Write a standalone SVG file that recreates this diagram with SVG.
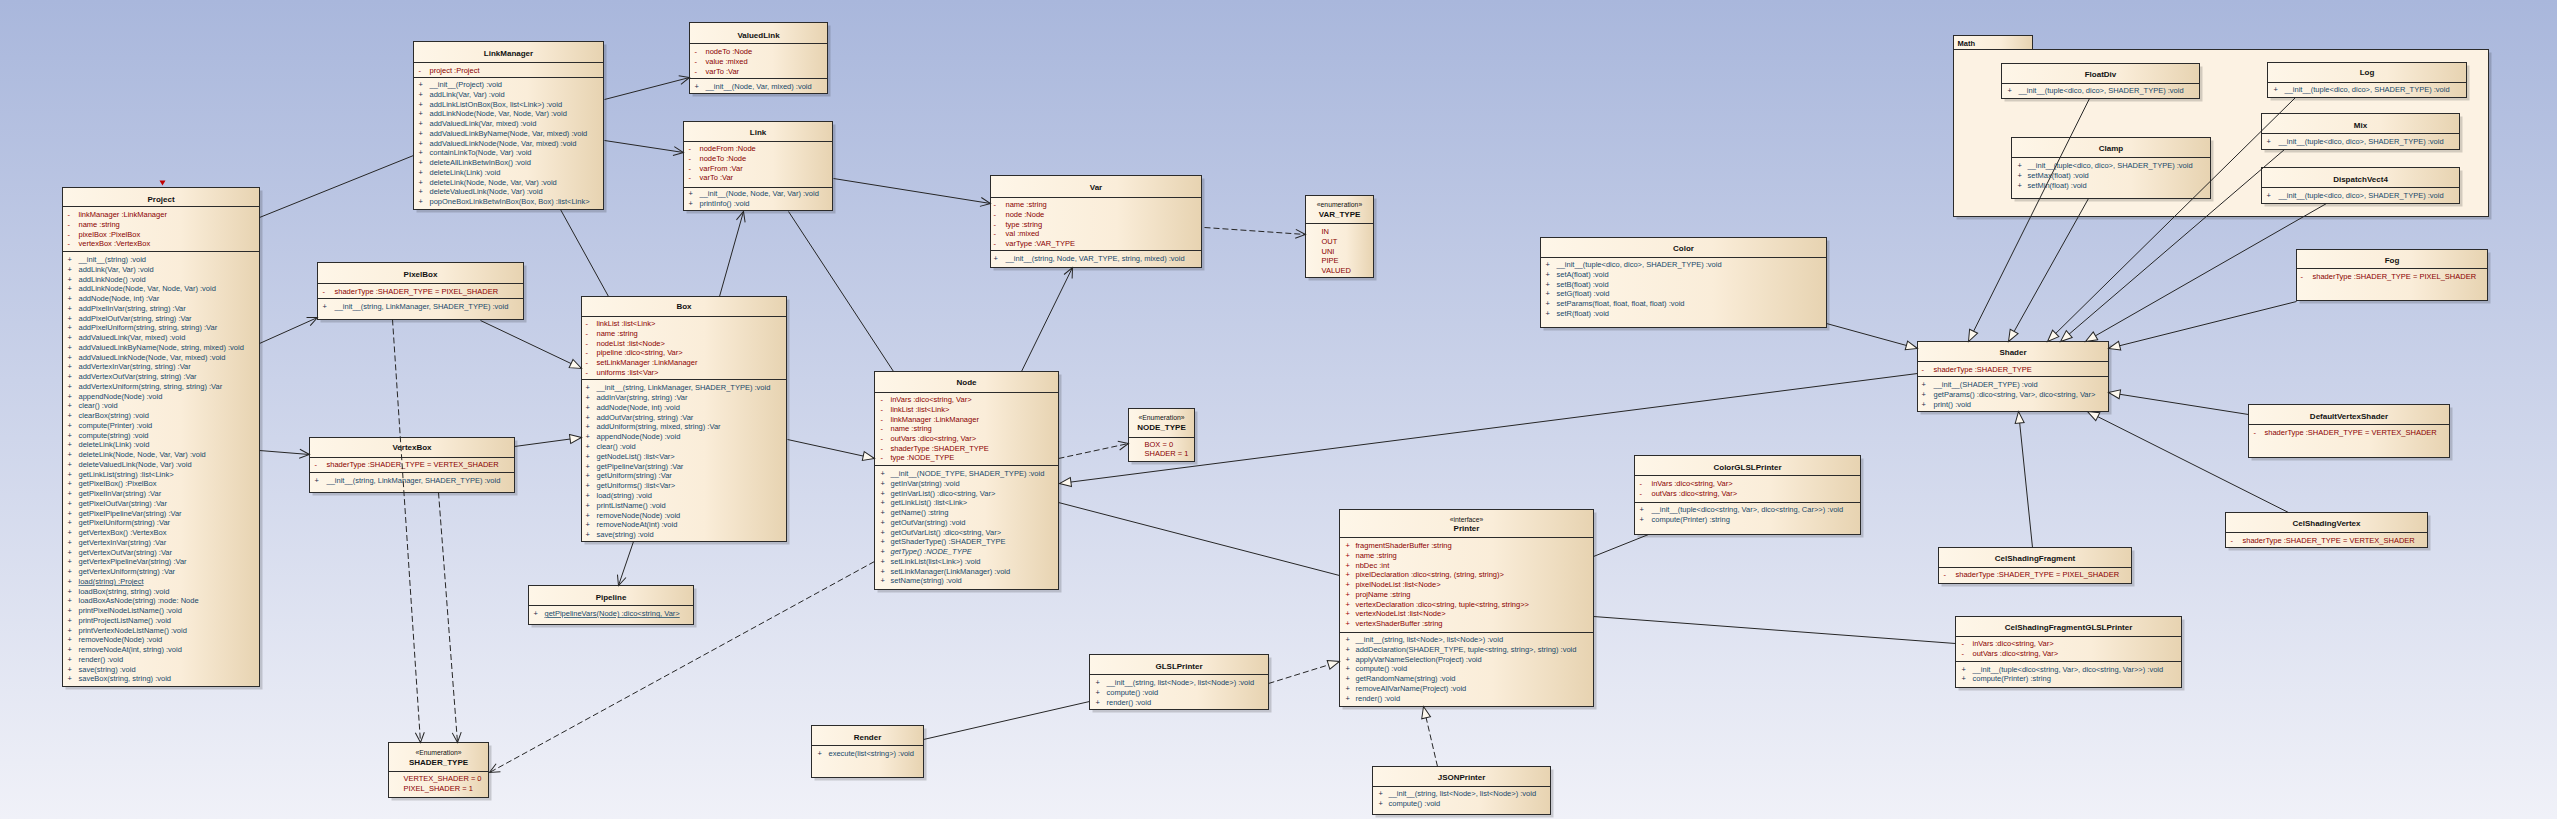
<svg xmlns="http://www.w3.org/2000/svg" width="2557" height="819" viewBox="0 0 2557 819">
<defs>
<linearGradient id="bg" x1="0" y1="0" x2="0" y2="1"><stop offset="0" stop-color="#a9b7dc"/><stop offset="1" stop-color="#f0f1f8"/></linearGradient>
<linearGradient id="g" x1="0" y1="0" x2="1" y2="0"><stop offset="0" stop-color="#fef6e8"/><stop offset="0.6" stop-color="#faedd9"/><stop offset="1" stop-color="#e7d3b1"/></linearGradient>
<marker id="oa" viewBox="0 0 10 10" refX="10" refY="5" markerWidth="10" markerHeight="10" markerUnits="userSpaceOnUse" orient="auto" overflow="visible"><path d="M0,0.5 L10,5 L0,9.5" fill="none" stroke="#262626" stroke-width="1"/></marker>
<marker id="tr" viewBox="0 0 12 10" refX="12" refY="5" markerWidth="12" markerHeight="10" markerUnits="userSpaceOnUse" orient="auto" overflow="visible"><path d="M0.5,0.5 L12,5 L0.5,9.5 Z" fill="#fdf8ee" stroke="#262626" stroke-width="1"/></marker>
</defs>
<style>
.bx{fill:url(#g);stroke:#2b2b2b;stroke-width:1}
.sh{fill:#000;opacity:.16}
.sp{stroke:#2b2b2b;stroke-width:1;fill:none}
text{font-family:"Liberation Sans",Arial,sans-serif;font-size:7.5px}
.nm{font-weight:bold;font-size:8px;text-anchor:middle;fill:#111}
.st{font-size:6.8px;text-anchor:middle;fill:#111}
.at{fill:#8a0000}
.mt{fill:#17486a}
.vr{fill:#a00000}
.vp{fill:#1a2a48}
.c{fill:none;stroke:#262626;stroke-width:1}
.d{stroke-dasharray:6,3}
.oa{marker-end:url(#oa)}
.tr{marker-end:url(#tr)}
</style>
<rect x="0" y="0" width="2557" height="819" fill="url(#bg)"/>
<g transform="translate(0.5,0.5)">

<g id="math">
<rect class="sh" x="1956" y="52" width="535" height="167"/>
<rect class="bx" x="1953" y="35" width="79" height="14"/>
<rect x="1953" y="49" width="535" height="167" fill="#fcf2e3" stroke="#2b2b2b"/>
<text x="1957" y="45" style="font-weight:bold" fill="#111">Math</text>
</g>

<g id="project">
<path d="M159,180 L165,180 L162,185 Z" fill="#c00000"/>
<rect class="sh" x="65" y="190" width="197" height="499"/>
<rect class="bx" x="62" y="187" width="197" height="499"/>
<path class="sp" d="M62,206H259M62,251H259"/>
<text class="nm" x="160.5" y="201">Project</text>
<text class="vr"><tspan x="67" y="216.7">-</tspan><tspan x="67" dy="9.75">-</tspan><tspan x="67" dy="9.75">-</tspan><tspan x="67" dy="9.75">-</tspan></text>
<text class="at"><tspan x="78" y="216.7">linkManager :LinkManager</tspan><tspan x="78" dy="9.75">name :string</tspan><tspan x="78" dy="9.75">pixelBox :PixelBox</tspan><tspan x="78" dy="9.75">vertexBox :VertexBox</tspan></text>
<text class="vp"><tspan x="67" y="261.7">+</tspan><tspan x="67" dy="9.75">+</tspan><tspan x="67" dy="9.75">+</tspan><tspan x="67" dy="9.75">+</tspan><tspan x="67" dy="9.75">+</tspan><tspan x="67" dy="9.75">+</tspan><tspan x="67" dy="9.75">+</tspan><tspan x="67" dy="9.75">+</tspan><tspan x="67" dy="9.75">+</tspan><tspan x="67" dy="9.75">+</tspan><tspan x="67" dy="9.75">+</tspan><tspan x="67" dy="9.75">+</tspan><tspan x="67" dy="9.75">+</tspan><tspan x="67" dy="9.75">+</tspan><tspan x="67" dy="9.75">+</tspan><tspan x="67" dy="9.75">+</tspan><tspan x="67" dy="9.75">+</tspan><tspan x="67" dy="9.75">+</tspan><tspan x="67" dy="9.75">+</tspan><tspan x="67" dy="9.75">+</tspan><tspan x="67" dy="9.75">+</tspan><tspan x="67" dy="9.75">+</tspan><tspan x="67" dy="9.75">+</tspan><tspan x="67" dy="9.75">+</tspan><tspan x="67" dy="9.75">+</tspan><tspan x="67" dy="9.75">+</tspan><tspan x="67" dy="9.75">+</tspan><tspan x="67" dy="9.75">+</tspan><tspan x="67" dy="9.75">+</tspan><tspan x="67" dy="9.75">+</tspan><tspan x="67" dy="9.75">+</tspan><tspan x="67" dy="9.75">+</tspan><tspan x="67" dy="9.75">+</tspan><tspan x="67" dy="9.75">+</tspan><tspan x="67" dy="9.75">+</tspan><tspan x="67" dy="9.75">+</tspan><tspan x="67" dy="9.75">+</tspan><tspan x="67" dy="9.75">+</tspan><tspan x="67" dy="9.75">+</tspan><tspan x="67" dy="9.75">+</tspan><tspan x="67" dy="9.75">+</tspan><tspan x="67" dy="9.75">+</tspan><tspan x="67" dy="9.75">+</tspan><tspan x="67" dy="9.75">+</tspan></text>
<text class="mt"><tspan x="78" y="261.7">__init__(string) :void</tspan><tspan x="78" dy="9.75">addLink(Var, Var) :void</tspan><tspan x="78" dy="9.75">addLinkNode() :void</tspan><tspan x="78" dy="9.75">addLinkNode(Node, Var, Node, Var) :void</tspan><tspan x="78" dy="9.75">addNode(Node, int) :Var</tspan><tspan x="78" dy="9.75">addPixelInVar(string, string) :Var</tspan><tspan x="78" dy="9.75">addPixelOutVar(string, string) :Var</tspan><tspan x="78" dy="9.75">addPixelUniform(string, string, string) :Var</tspan><tspan x="78" dy="9.75">addValuedLink(Var, mixed) :void</tspan><tspan x="78" dy="9.75">addValuedLinkByName(Node, string, mixed) :void</tspan><tspan x="78" dy="9.75">addValuedLinkNode(Node, Var, mixed) :void</tspan><tspan x="78" dy="9.75">addVertexInVar(string, string) :Var</tspan><tspan x="78" dy="9.75">addVertexOutVar(string, string) :Var</tspan><tspan x="78" dy="9.75">addVertexUniform(string, string, string) :Var</tspan><tspan x="78" dy="9.75">appendNode(Node) :void</tspan><tspan x="78" dy="9.75">clear() :void</tspan><tspan x="78" dy="9.75">clearBox(string) :void</tspan><tspan x="78" dy="9.75">compute(Printer) :void</tspan><tspan x="78" dy="9.75">compute(string) :void</tspan><tspan x="78" dy="9.75">deleteLink(Link) :void</tspan><tspan x="78" dy="9.75">deleteLink(Node, Node, Var, Var) :void</tspan><tspan x="78" dy="9.75">deleteValuedLink(Node, Var) :void</tspan><tspan x="78" dy="9.75">getLinkList(string) :list&lt;Link&gt;</tspan><tspan x="78" dy="9.75">getPixelBox() :PixelBox</tspan><tspan x="78" dy="9.75">getPixelInVar(string) :Var</tspan><tspan x="78" dy="9.75">getPixelOutVar(string) :Var</tspan><tspan x="78" dy="9.75">getPixelPipelineVar(string) :Var</tspan><tspan x="78" dy="9.75">getPixelUniform(string) :Var</tspan><tspan x="78" dy="9.75">getVertexBox() :VertexBox</tspan><tspan x="78" dy="9.75">getVertexInVar(string) :Var</tspan><tspan x="78" dy="9.75">getVertexOutVar(string) :Var</tspan><tspan x="78" dy="9.75">getVertexPipelineVar(string) :Var</tspan><tspan x="78" dy="9.75">getVertexUniform(string) :Var</tspan><tspan x="78" dy="9.75" text-decoration="underline">load(string) :Project</tspan><tspan x="78" dy="9.75">loadBox(string, string) :void</tspan><tspan x="78" dy="9.75">loadBoxAsNode(string) :node: Node</tspan><tspan x="78" dy="9.75">printPixelNodeListName() :void</tspan><tspan x="78" dy="9.75">printProjectListName() :void</tspan><tspan x="78" dy="9.75">printVertexNodeListName() :void</tspan><tspan x="78" dy="9.75">removeNode(Node) :void</tspan><tspan x="78" dy="9.75">removeNodeAt(int, string) :void</tspan><tspan x="78" dy="9.75">render() :void</tspan><tspan x="78" dy="9.75">save(string) :void</tspan><tspan x="78" dy="9.75">saveBox(string, string) :void</tspan></text>
</g>

<g id="linkmanager">
<rect class="sh" x="416" y="44" width="190" height="168"/>
<rect class="bx" x="413" y="41" width="190" height="168"/>
<path class="sp" d="M413,62H603M413,77H603"/>
<text class="nm" x="508" y="55.5">LinkManager</text>
<text class="vr" x="418" y="72">-</text>
<text class="at" x="429" y="72">project :Project</text>
<text class="vp"><tspan x="418" y="86.7">+</tspan><tspan x="418" dy="9.75">+</tspan><tspan x="418" dy="9.75">+</tspan><tspan x="418" dy="9.75">+</tspan><tspan x="418" dy="9.75">+</tspan><tspan x="418" dy="9.75">+</tspan><tspan x="418" dy="9.75">+</tspan><tspan x="418" dy="9.75">+</tspan><tspan x="418" dy="9.75">+</tspan><tspan x="418" dy="9.75">+</tspan><tspan x="418" dy="9.75">+</tspan><tspan x="418" dy="9.75">+</tspan><tspan x="418" dy="9.75">+</tspan></text>
<text class="mt"><tspan x="429" y="86.7">__init__(Project) :void</tspan><tspan x="429" dy="9.75">addLink(Var, Var) :void</tspan><tspan x="429" dy="9.75">addLinkListOnBox(Box, list&lt;Link&gt;) :void</tspan><tspan x="429" dy="9.75">addLinkNode(Node, Var, Node, Var) :void</tspan><tspan x="429" dy="9.75">addValuedLink(Var, mixed) :void</tspan><tspan x="429" dy="9.75">addValuedLinkByName(Node, Var, mixed) :void</tspan><tspan x="429" dy="9.75">addValuedLinkNode(Node, Var, mixed) :void</tspan><tspan x="429" dy="9.75">containLinkTo(Node, Var) :void</tspan><tspan x="429" dy="9.75">deleteAllLinkBetwInBox() :void</tspan><tspan x="429" dy="9.75">deleteLink(Link) :void</tspan><tspan x="429" dy="9.75">deleteLink(Node, Node, Var, Var) :void</tspan><tspan x="429" dy="9.75">deleteValuedLink(Node, Var) :void</tspan><tspan x="429" dy="9.75">popOneBoxLinkBetwInBox(Box, Box) :list&lt;Link&gt;</tspan></text>
</g>

<g id="valuedlink">
<rect class="sh" x="692" y="25" width="138" height="71"/>
<rect class="bx" x="689" y="22" width="138" height="71"/>
<path class="sp" d="M689,43H827M689,78H827"/>
<text class="nm" x="758" y="37">ValuedLink</text>
<text class="vr"><tspan x="694" y="53.7">-</tspan><tspan x="694" dy="9.75">-</tspan><tspan x="694" dy="9.75">-</tspan></text>
<text class="at"><tspan x="705" y="53.7">nodeTo :Node</tspan><tspan x="705" dy="9.75">value :mixed</tspan><tspan x="705" dy="9.75">varTo :Var</tspan></text>
<text class="vp" x="694" y="88.7">+</text>
<text class="mt" x="705" y="88.7">__init__(Node, Var, mixed) :void</text>
</g>

<g id="link">
<rect class="sh" x="686" y="124" width="149" height="89"/>
<rect class="bx" x="683" y="121" width="149" height="89"/>
<path class="sp" d="M683,141H832M683,187H832"/>
<text class="nm" x="757.5" y="134.5">Link</text>
<text class="vr"><tspan x="688" y="150.7">-</tspan><tspan x="688" dy="9.75">-</tspan><tspan x="688" dy="9.75">-</tspan><tspan x="688" dy="9.75">-</tspan></text>
<text class="at"><tspan x="699" y="150.7">nodeFrom :Node</tspan><tspan x="699" dy="9.75">nodeTo :Node</tspan><tspan x="699" dy="9.75">varFrom :Var</tspan><tspan x="699" dy="9.75">varTo :Var</tspan></text>
<text class="vp"><tspan x="688" y="195.9">+</tspan><tspan x="688" dy="9.75">+</tspan></text>
<text class="mt"><tspan x="699" y="195.9">__init__(Node, Node, Var, Var) :void</tspan><tspan x="699" dy="9.75">printInfo() :void</tspan></text>
</g>

<g id="var">
<rect class="sh" x="993" y="178" width="211" height="92"/>
<rect class="bx" x="990" y="175" width="211" height="92"/>
<path class="sp" d="M990,197H1201M990,250H1201"/>
<text class="nm" x="1095.5" y="189.5">Var</text>
<text class="vr"><tspan x="993" y="206.7">-</tspan><tspan x="993" dy="9.75">-</tspan><tspan x="993" dy="9.75">-</tspan><tspan x="993" dy="9.75">-</tspan><tspan x="993" dy="9.75">-</tspan></text>
<text class="at"><tspan x="1005" y="206.7">name :string</tspan><tspan x="1005" dy="9.75">node :Node</tspan><tspan x="1005" dy="9.75">type :string</tspan><tspan x="1005" dy="9.75">val :mixed</tspan><tspan x="1005" dy="9.75">varType :VAR_TYPE</tspan></text>
<text class="vp" x="993" y="260.7">+</text>
<text class="mt" x="1005" y="260.7">__init__(string, Node, VAR_TYPE, string, mixed) :void</text>
</g>

<g id="var_type">
<rect class="sh" x="1308" y="198" width="68" height="82"/>
<rect class="bx" x="1305" y="195" width="68" height="82"/>
<path class="sp" d="M1305,223H1373"/>
<text class="st" x="1339" y="206.5">«enumeration»</text>
<text class="nm" x="1339" y="216.7">VAR_TYPE</text>
<text class="at"><tspan x="1321" y="233.7">IN</tspan><tspan x="1321" dy="9.75">OUT</tspan><tspan x="1321" dy="9.75">UNI</tspan><tspan x="1321" dy="9.75">PIPE</tspan><tspan x="1321" dy="9.75">VALUED</tspan></text>
</g>

<g id="pixelbox">
<rect class="sh" x="320" y="265" width="206" height="57"/>
<rect class="bx" x="317" y="262" width="206" height="57"/>
<path class="sp" d="M317,283H523M317,298H523"/>
<text class="nm" x="420" y="276.7">PixelBox</text>
<text class="vr" x="322" y="293.7">-</text>
<text class="at" x="334" y="293.7">shaderType :SHADER_TYPE = PIXEL_SHADER</text>
<text class="vp" x="322" y="308.7">+</text>
<text class="mt" x="334" y="308.7">__init__(string, LinkManager, SHADER_TYPE) :void</text>
</g>

<g id="vertexbox">
<rect class="sh" x="312" y="440" width="205" height="55"/>
<rect class="bx" x="309" y="437" width="205" height="55"/>
<path class="sp" d="M309,457H514M309,472H514"/>
<text class="nm" x="411.5" y="449.7">VertexBox</text>
<text class="vr" x="314" y="466.7">-</text>
<text class="at" x="326" y="466.7">shaderType :SHADER_TYPE = VERTEX_SHADER</text>
<text class="vp" x="314" y="482.7">+</text>
<text class="mt" x="326" y="482.7">__init__(string, LinkManager, SHADER_TYPE) :void</text>
</g>

<g id="box">
<rect class="sh" x="584" y="299" width="205" height="245"/>
<rect class="bx" x="581" y="296" width="205" height="245"/>
<path class="sp" d="M581,316H786M581,379H786"/>
<text class="nm" x="683.5" y="308.7">Box</text>
<text class="vr"><tspan x="585" y="325.7">-</tspan><tspan x="585" dy="9.75">-</tspan><tspan x="585" dy="9.75">-</tspan><tspan x="585" dy="9.75">-</tspan><tspan x="585" dy="9.75">-</tspan><tspan x="585" dy="9.75">-</tspan></text>
<text class="at"><tspan x="596" y="325.7">linkList :list&lt;Link&gt;</tspan><tspan x="596" dy="9.75">name :string</tspan><tspan x="596" dy="9.75">nodeList :list&lt;Node&gt;</tspan><tspan x="596" dy="9.75">pipeline :dico&lt;string, Var&gt;</tspan><tspan x="596" dy="9.75">setLinkManager :LinkManager</tspan><tspan x="596" dy="9.75">uniforms :list&lt;Var&gt;</tspan></text>
<text class="vp"><tspan x="585" y="389.7">+</tspan><tspan x="585" dy="9.8">+</tspan><tspan x="585" dy="9.8">+</tspan><tspan x="585" dy="9.8">+</tspan><tspan x="585" dy="9.8">+</tspan><tspan x="585" dy="9.8">+</tspan><tspan x="585" dy="9.8">+</tspan><tspan x="585" dy="9.8">+</tspan><tspan x="585" dy="9.8">+</tspan><tspan x="585" dy="9.8">+</tspan><tspan x="585" dy="9.8">+</tspan><tspan x="585" dy="9.8">+</tspan><tspan x="585" dy="9.8">+</tspan><tspan x="585" dy="9.8">+</tspan><tspan x="585" dy="9.8">+</tspan><tspan x="585" dy="9.8">+</tspan></text>
<text class="mt"><tspan x="596" y="389.7">__init__(string, LinkManager, SHADER_TYPE) :void</tspan><tspan x="596" dy="9.8">addInVar(string, string) :Var</tspan><tspan x="596" dy="9.8">addNode(Node, int) :void</tspan><tspan x="596" dy="9.8">addOutVar(string, string) :Var</tspan><tspan x="596" dy="9.8">addUniform(string, mixed, string) :Var</tspan><tspan x="596" dy="9.8">appendNode(Node) :void</tspan><tspan x="596" dy="9.8">clear() :void</tspan><tspan x="596" dy="9.8">getNodeList() :list&lt;Var&gt;</tspan><tspan x="596" dy="9.8">getPipelineVar(string) :Var</tspan><tspan x="596" dy="9.8">getUniform(string) :Var</tspan><tspan x="596" dy="9.8">getUniforms() :list&lt;Var&gt;</tspan><tspan x="596" dy="9.8">load(string) :void</tspan><tspan x="596" dy="9.8">printListName() :void</tspan><tspan x="596" dy="9.8">removeNode(Node) :void</tspan><tspan x="596" dy="9.8">removeNodeAt(int) :void</tspan><tspan x="596" dy="9.8">save(string) :void</tspan></text>
</g>

<g id="node">
<rect class="sh" x="877" y="374" width="184" height="218"/>
<rect class="bx" x="874" y="371" width="184" height="218"/>
<path class="sp" d="M874,392H1058M874,465H1058"/>
<text class="nm" x="966" y="384.7">Node</text>
<text class="vr"><tspan x="880" y="401.7">-</tspan><tspan x="880" dy="9.67">-</tspan><tspan x="880" dy="9.67">-</tspan><tspan x="880" dy="9.67">-</tspan><tspan x="880" dy="9.67">-</tspan><tspan x="880" dy="9.67">-</tspan><tspan x="880" dy="9.67">-</tspan></text>
<text class="at"><tspan x="890" y="401.7">inVars :dico&lt;string, Var&gt;</tspan><tspan x="890" dy="9.67">linkList :list&lt;Link&gt;</tspan><tspan x="890" dy="9.67">linkManager :LinkManager</tspan><tspan x="890" dy="9.67">name :string</tspan><tspan x="890" dy="9.67">outVars :dico&lt;string, Var&gt;</tspan><tspan x="890" dy="9.67">shaderType :SHADER_TYPE</tspan><tspan x="890" dy="9.67">type :NODE_TYPE</tspan></text>
<text class="vp"><tspan x="880" y="475.7">+</tspan><tspan x="880" dy="9.75">+</tspan><tspan x="880" dy="9.75">+</tspan><tspan x="880" dy="9.75">+</tspan><tspan x="880" dy="9.75">+</tspan><tspan x="880" dy="9.75">+</tspan><tspan x="880" dy="9.75">+</tspan><tspan x="880" dy="9.75">+</tspan><tspan x="880" dy="9.75">+</tspan><tspan x="880" dy="9.75">+</tspan><tspan x="880" dy="9.75">+</tspan><tspan x="880" dy="9.75">+</tspan></text>
<text class="mt"><tspan x="890" y="475.7">__init__(NODE_TYPE, SHADER_TYPE) :void</tspan><tspan x="890" dy="9.75">getInVar(string) :void</tspan><tspan x="890" dy="9.75">getInVarList() :dico&lt;string, Var&gt;</tspan><tspan x="890" dy="9.75">getLinkList() :list&lt;Link&gt;</tspan><tspan x="890" dy="9.75">getName() :string</tspan><tspan x="890" dy="9.75">getOutVar(string) :void</tspan><tspan x="890" dy="9.75">getOutVarList() :dico&lt;string, Var&gt;</tspan><tspan x="890" dy="9.75">getShaderType() :SHADER_TYPE</tspan><tspan x="890" dy="9.75" font-style="italic">getType() :NODE_TYPE</tspan><tspan x="890" dy="9.75">setLinkList(list&lt;Link&gt;) :void</tspan><tspan x="890" dy="9.75">setLinkManager(LinkManager) :void</tspan><tspan x="890" dy="9.75">setName(string) :void</tspan></text>
</g>

<g id="node_type">
<rect class="sh" x="1131" y="411" width="66" height="53"/>
<rect class="bx" x="1128" y="408" width="66" height="53"/>
<path class="sp" d="M1128,437H1194"/>
<text class="st" x="1161" y="419.7">«Enumeration»</text>
<text class="nm" x="1161" y="429.7">NODE_TYPE</text>
<text class="at"><tspan x="1144" y="446.7">BOX = 0</tspan><tspan x="1144" dy="9.25">SHADER = 1</tspan></text>
</g>

<g id="pipeline">
<rect class="sh" x="531" y="588" width="165" height="39"/>
<rect class="bx" x="528" y="585" width="165" height="39"/>
<path class="sp" d="M528,605H693"/>
<text class="nm" x="610.5" y="599.7">Pipeline</text>
<text class="vp" x="533" y="615.7">+</text>
<text class="mt" x="544" y="615.7" text-decoration="underline">getPipelineVars(Node) :dico&lt;string, Var&gt;</text>
</g>

<g id="shader_type">
<rect class="sh" x="391" y="745" width="100" height="55"/>
<rect class="bx" x="388" y="742" width="100" height="55"/>
<path class="sp" d="M388,771H488"/>
<text class="st" x="438" y="754.7">«Enumeration»</text>
<text class="nm" x="438" y="764.7">SHADER_TYPE</text>
<text class="at"><tspan x="403" y="780.7">VERTEX_SHADER = 0</tspan><tspan x="403" dy="10">PIXEL_SHADER = 1</tspan></text>
</g>

<g id="glslprinter">
<rect class="sh" x="1092" y="657" width="179" height="55"/>
<rect class="bx" x="1089" y="654" width="179" height="55"/>
<path class="sp" d="M1089,674H1268"/>
<text class="nm" x="1178.5" y="668.7">GLSLPrinter</text>
<text class="vp"><tspan x="1095" y="684.7">+</tspan><tspan x="1095" dy="9.75">+</tspan><tspan x="1095" dy="9.75">+</tspan></text>
<text class="mt"><tspan x="1106" y="684.7">__init__(string, list&lt;Node&gt;, list&lt;Node&gt;) :void</tspan><tspan x="1106" dy="9.75">compute() :void</tspan><tspan x="1106" dy="9.75">render() :void</tspan></text>
</g>

<g id="render">
<rect class="sh" x="814" y="728" width="112" height="52"/>
<rect class="bx" x="811" y="725" width="112" height="52"/>
<path class="sp" d="M811,745H923"/>
<text class="nm" x="867" y="739.7">Render</text>
<text class="vp" x="817" y="755.7">+</text>
<text class="mt" x="828" y="755.7">execute(list&lt;string&gt;) :void</text>
</g>

<g id="floatdiv">
<rect class="sh" x="2004" y="66" width="198" height="35"/>
<rect class="bx" x="2001" y="63" width="198" height="35"/>
<path class="sp" d="M2001,83H2199"/>
<text class="nm" x="2100" y="76.7">FloatDiv</text>
<text class="vp" x="2007" y="92.7">+</text>
<text class="mt" x="2018" y="92.7">__init__(tuple&lt;dico, dico&gt;, SHADER_TYPE) :void</text>
</g>

<g id="log">
<rect class="sh" x="2270" y="65" width="199" height="35"/>
<rect class="bx" x="2267" y="62" width="199" height="35"/>
<path class="sp" d="M2267,82H2466"/>
<text class="nm" x="2366.5" y="74.7">Log</text>
<text class="vp" x="2273" y="91.7">+</text>
<text class="mt" x="2284" y="91.7">__init__(tuple&lt;dico, dico&gt;, SHADER_TYPE) :void</text>
</g>

<g id="mix">
<rect class="sh" x="2264" y="116" width="198" height="36"/>
<rect class="bx" x="2261" y="113" width="198" height="36"/>
<path class="sp" d="M2261,133H2459"/>
<text class="nm" x="2360" y="127.7">Mix</text>
<text class="vp" x="2266" y="143.7">+</text>
<text class="mt" x="2278" y="143.7">__init__(tuple&lt;dico, dico&gt;, SHADER_TYPE) :void</text>
</g>

<g id="dispatchvect4">
<rect class="sh" x="2264" y="170" width="198" height="36"/>
<rect class="bx" x="2261" y="167" width="198" height="36"/>
<path class="sp" d="M2261,187H2459"/>
<text class="nm" x="2360" y="181.7">DispatchVect4</text>
<text class="vp" x="2266" y="197.7">+</text>
<text class="mt" x="2278" y="197.7">__init__(tuple&lt;dico, dico&gt;, SHADER_TYPE) :void</text>
</g>

<g id="clamp">
<rect class="sh" x="2014" y="140" width="199" height="61"/>
<rect class="bx" x="2011" y="137" width="199" height="61"/>
<path class="sp" d="M2011,157H2210"/>
<text class="nm" x="2110.5" y="150.7">Clamp</text>
<text class="vp"><tspan x="2017" y="167.7">+</tspan><tspan x="2017" dy="9.75">+</tspan><tspan x="2017" dy="9.75">+</tspan></text>
<text class="mt"><tspan x="2027" y="167.7">__init__(tuple&lt;dico, dico&gt;, SHADER_TYPE) :void</tspan><tspan x="2027" dy="9.75">setMax(float) :void</tspan><tspan x="2027" dy="9.75">setMin(float) :void</tspan></text>
</g>

<g id="color">
<rect class="sh" x="1543" y="240" width="286" height="90"/>
<rect class="bx" x="1540" y="237" width="286" height="90"/>
<path class="sp" d="M1540,257H1826"/>
<text class="nm" x="1683" y="250.7">Color</text>
<text class="vp"><tspan x="1545" y="266.7">+</tspan><tspan x="1545" dy="9.75">+</tspan><tspan x="1545" dy="9.75">+</tspan><tspan x="1545" dy="9.75">+</tspan><tspan x="1545" dy="9.75">+</tspan><tspan x="1545" dy="9.75">+</tspan></text>
<text class="mt"><tspan x="1556" y="266.7">__init__(tuple&lt;dico, dico&gt;, SHADER_TYPE) :void</tspan><tspan x="1556" dy="9.75">setA(float) :void</tspan><tspan x="1556" dy="9.75">setB(float) :void</tspan><tspan x="1556" dy="9.75">setG(float) :void</tspan><tspan x="1556" dy="9.75">setParams(float, float, float, float) :void</tspan><tspan x="1556" dy="9.75">setR(float) :void</tspan></text>
</g>

<g id="shader">
<rect class="sh" x="1920" y="344" width="191" height="70"/>
<rect class="bx" x="1917" y="341" width="191" height="70"/>
<path class="sp" d="M1917,361H2108M1917,376H2108"/>
<text class="nm" x="2012.5" y="354.7">Shader</text>
<text class="vr" x="1921" y="371.7">-</text>
<text class="at" x="1933" y="371.7">shaderType :SHADER_TYPE</text>
<text class="vp"><tspan x="1921" y="386.7">+</tspan><tspan x="1921" dy="9.75">+</tspan><tspan x="1921" dy="9.75">+</tspan></text>
<text class="mt"><tspan x="1933" y="386.7">__init__(SHADER_TYPE) :void</tspan><tspan x="1933" dy="9.75">getParams() :dico&lt;string, Var&gt;, dico&lt;string, Var&gt;</tspan><tspan x="1933" dy="9.75">print() :void</tspan></text>
</g>

<g id="fog">
<rect class="sh" x="2299" y="252" width="191" height="51"/>
<rect class="bx" x="2296" y="249" width="191" height="51"/>
<path class="sp" d="M2296,268H2487"/>
<text class="nm" x="2391.5" y="262.7">Fog</text>
<text class="vr" x="2300" y="278.7">-</text>
<text class="at" x="2312" y="278.7">shaderType :SHADER_TYPE = PIXEL_SHADER</text>
</g>

<g id="defaultvertexshader">
<rect class="sh" x="2251" y="407" width="201" height="53"/>
<rect class="bx" x="2248" y="404" width="201" height="53"/>
<path class="sp" d="M2248,424H2449"/>
<text class="nm" x="2348.5" y="418.7">DefaultVertexShader</text>
<text class="vr" x="2253" y="434.7">-</text>
<text class="at" x="2264" y="434.7">shaderType :SHADER_TYPE = VERTEX_SHADER</text>
</g>

<g id="celshadingvertex">
<rect class="sh" x="2228" y="515" width="202" height="35"/>
<rect class="bx" x="2225" y="512" width="202" height="35"/>
<path class="sp" d="M2225,532H2427"/>
<text class="nm" x="2326" y="525.7">CelShadingVertex</text>
<text class="vr" x="2230" y="542.7">-</text>
<text class="at" x="2242" y="542.7">shaderType :SHADER_TYPE = VERTEX_SHADER</text>
</g>

<g id="celshadingfragment">
<rect class="sh" x="1941" y="550" width="193" height="36"/>
<rect class="bx" x="1938" y="547" width="193" height="36"/>
<path class="sp" d="M1938,567H2131"/>
<text class="nm" x="2034.5" y="560.7">CelShadingFragment</text>
<text class="vr" x="1943" y="576.7">-</text>
<text class="at" x="1955" y="576.7">shaderType :SHADER_TYPE = PIXEL_SHADER</text>
</g>

<g id="colorglslprinter">
<rect class="sh" x="1637" y="458" width="226" height="79"/>
<rect class="bx" x="1634" y="455" width="226" height="79"/>
<path class="sp" d="M1634,475H1860M1634,502H1860"/>
<text class="nm" x="1747" y="469.7">ColorGLSLPrinter</text>
<text class="vr"><tspan x="1639" y="485.7">-</tspan><tspan x="1639" dy="9.75">-</tspan></text>
<text class="at"><tspan x="1651" y="485.7">inVars :dico&lt;string, Var&gt;</tspan><tspan x="1651" dy="9.75">outVars :dico&lt;string, Var&gt;</tspan></text>
<text class="vp"><tspan x="1639" y="511.7">+</tspan><tspan x="1639" dy="9.75">+</tspan></text>
<text class="mt"><tspan x="1651" y="511.7">__init__(tuple&lt;dico&lt;string, Var&gt;, dico&lt;string, Car&gt;&gt;) :void</tspan><tspan x="1651" dy="9.75">compute(Printer) :string</tspan></text>
</g>

<g id="printer">
<rect class="sh" x="1342" y="512" width="254" height="197"/>
<rect class="bx" x="1339" y="509" width="254" height="197"/>
<path class="sp" d="M1339,537H1593M1339,632H1593"/>
<text class="st" x="1466" y="521.7">«interface»</text>
<text class="nm" x="1466" y="530.7">Printer</text>
<text class="vr"><tspan x="1345" y="547.7">+</tspan><tspan x="1345" dy="9.75">+</tspan><tspan x="1345" dy="9.75">+</tspan><tspan x="1345" dy="9.75">+</tspan><tspan x="1345" dy="9.75">+</tspan><tspan x="1345" dy="9.75">+</tspan><tspan x="1345" dy="9.75">+</tspan><tspan x="1345" dy="9.75">+</tspan><tspan x="1345" dy="9.75">+</tspan></text>
<text class="at"><tspan x="1355" y="547.7">fragmentShaderBuffer :string</tspan><tspan x="1355" dy="9.75">name :string</tspan><tspan x="1355" dy="9.75">nbDec :int</tspan><tspan x="1355" dy="9.75">pixelDeclaration :dico&lt;string, (string, string)&gt;</tspan><tspan x="1355" dy="9.75">pixelNodeList :list&lt;Node&gt;</tspan><tspan x="1355" dy="9.75">projName :string</tspan><tspan x="1355" dy="9.75">vertexDeclaration :dico&lt;string, tuple&lt;string, string&gt;&gt;</tspan><tspan x="1355" dy="9.75">vertexNodeList :list&lt;Node&gt;</tspan><tspan x="1355" dy="9.75">vertexShaderBuffer :string</tspan></text>
<text class="vp"><tspan x="1345" y="641.7">+</tspan><tspan x="1345" dy="9.75">+</tspan><tspan x="1345" dy="9.75">+</tspan><tspan x="1345" dy="9.75">+</tspan><tspan x="1345" dy="9.75">+</tspan><tspan x="1345" dy="9.75">+</tspan><tspan x="1345" dy="9.75">+</tspan></text>
<text class="mt"><tspan x="1355" y="641.7">__init__(string, list&lt;Node&gt;, list&lt;Node&gt;) :void</tspan><tspan x="1355" dy="9.75">addDeclaration(SHADER_TYPE, tuple&lt;string, string&gt;, string) :void</tspan><tspan x="1355" dy="9.75">applyVarNameSelection(Project) :void</tspan><tspan x="1355" dy="9.75">compute() :void</tspan><tspan x="1355" dy="9.75">getRandomName(string) :void</tspan><tspan x="1355" dy="9.75">removeAllVarName(Project) :void</tspan><tspan x="1355" dy="9.75">render() :void</tspan></text>
</g>

<g id="celshadingfragmentglslprinter">
<rect class="sh" x="1958" y="619" width="226" height="71"/>
<rect class="bx" x="1955" y="616" width="226" height="71"/>
<path class="sp" d="M1955,636H2181M1955,661H2181"/>
<text class="nm" x="2068" y="629.7">CelShadingFragmentGLSLPrinter</text>
<text class="vr"><tspan x="1961" y="645.7">-</tspan><tspan x="1961" dy="9.75">-</tspan></text>
<text class="at"><tspan x="1972" y="645.7">inVars :dico&lt;string, Var&gt;</tspan><tspan x="1972" dy="9.75">outVars :dico&lt;string, Var&gt;</tspan></text>
<text class="vp"><tspan x="1961" y="671.7">+</tspan><tspan x="1961" dy="9.2">+</tspan></text>
<text class="mt"><tspan x="1972" y="671.7">__init__(tuple&lt;dico&lt;string, Var&gt;, dico&lt;string, Var&gt;&gt;) :void</tspan><tspan x="1972" dy="9.2">compute(Printer) :string</tspan></text>
</g>

<g id="jsonprinter">
<rect class="sh" x="1375" y="769" width="178" height="48"/>
<rect class="bx" x="1372" y="766" width="178" height="48"/>
<path class="sp" d="M1372,786H1550"/>
<text class="nm" x="1461" y="779.7">JSONPrinter</text>
<text class="vp"><tspan x="1378" y="795.7">+</tspan><tspan x="1378" dy="9.75">+</tspan></text>
<text class="mt"><tspan x="1388" y="795.7">__init__(string, list&lt;Node&gt;, list&lt;Node&gt;) :void</tspan><tspan x="1388" dy="9.75">compute() :void</tspan></text>
</g>

<g id="connectors">
<path class="c" d="M259,217L413,155"/>
<path class="c oa" d="M259,343L317,317"/>
<path class="c oa" d="M259,450L309,454"/>
<path class="c oa" d="M604,99L689,77"/>
<path class="c oa" d="M604,140L683,152"/>
<path class="c" d="M560,209L608,296"/>
<path class="c oa" d="M719,296L743,211"/>
<path class="c" d="M788,211L893,371"/>
<path class="c oa" d="M833,178L990,203"/>
<path class="c oa" d="M1021,371L1072,267"/>
<path class="c d oa" d="M1204,227L1305,234"/>
<path class="c tr" d="M480,320L581,368"/>
<path class="c tr" d="M514,446L581,437"/>
<path class="c d oa" d="M392,319L420,742"/>
<path class="c d oa" d="M438,492L457,742"/>
<path class="c oa" d="M633,541L618,585"/>
<path class="c tr" d="M787,439L874,458"/>
<path class="c d oa" d="M874,561L489,772"/>
<path class="c d oa" d="M1058,458L1128,443"/>
<path class="c tr" d="M1917,373L1059,483"/>
<path class="c" d="M1058,502L1339,575"/>
<path class="c" d="M923,739L1089,701"/>
<path class="c d tr" d="M1268,683L1339,661"/>
<path class="c d tr" d="M1437,766L1423,706"/>
<path class="c" d="M1593,556L1648,534"/>
<path class="c" d="M1593,616L1955,643"/>
<path class="c tr" d="M1826,323L1917,348"/>
<path class="c tr" d="M2089,98L1968,341"/>
<path class="c tr" d="M2088,198L2008,341"/>
<path class="c tr" d="M2295,97L2047,341"/>
<path class="c tr" d="M2284,149L2060,341"/>
<path class="c tr" d="M2326,203L2085,341"/>
<path class="c tr" d="M2296,301L2108,348"/>
<path class="c tr" d="M2248,414L2108,392"/>
<path class="c tr" d="M2288,512L2087,411"/>
<path class="c tr" d="M2032,547L2018,411"/>
</g>
</g>
</svg>
